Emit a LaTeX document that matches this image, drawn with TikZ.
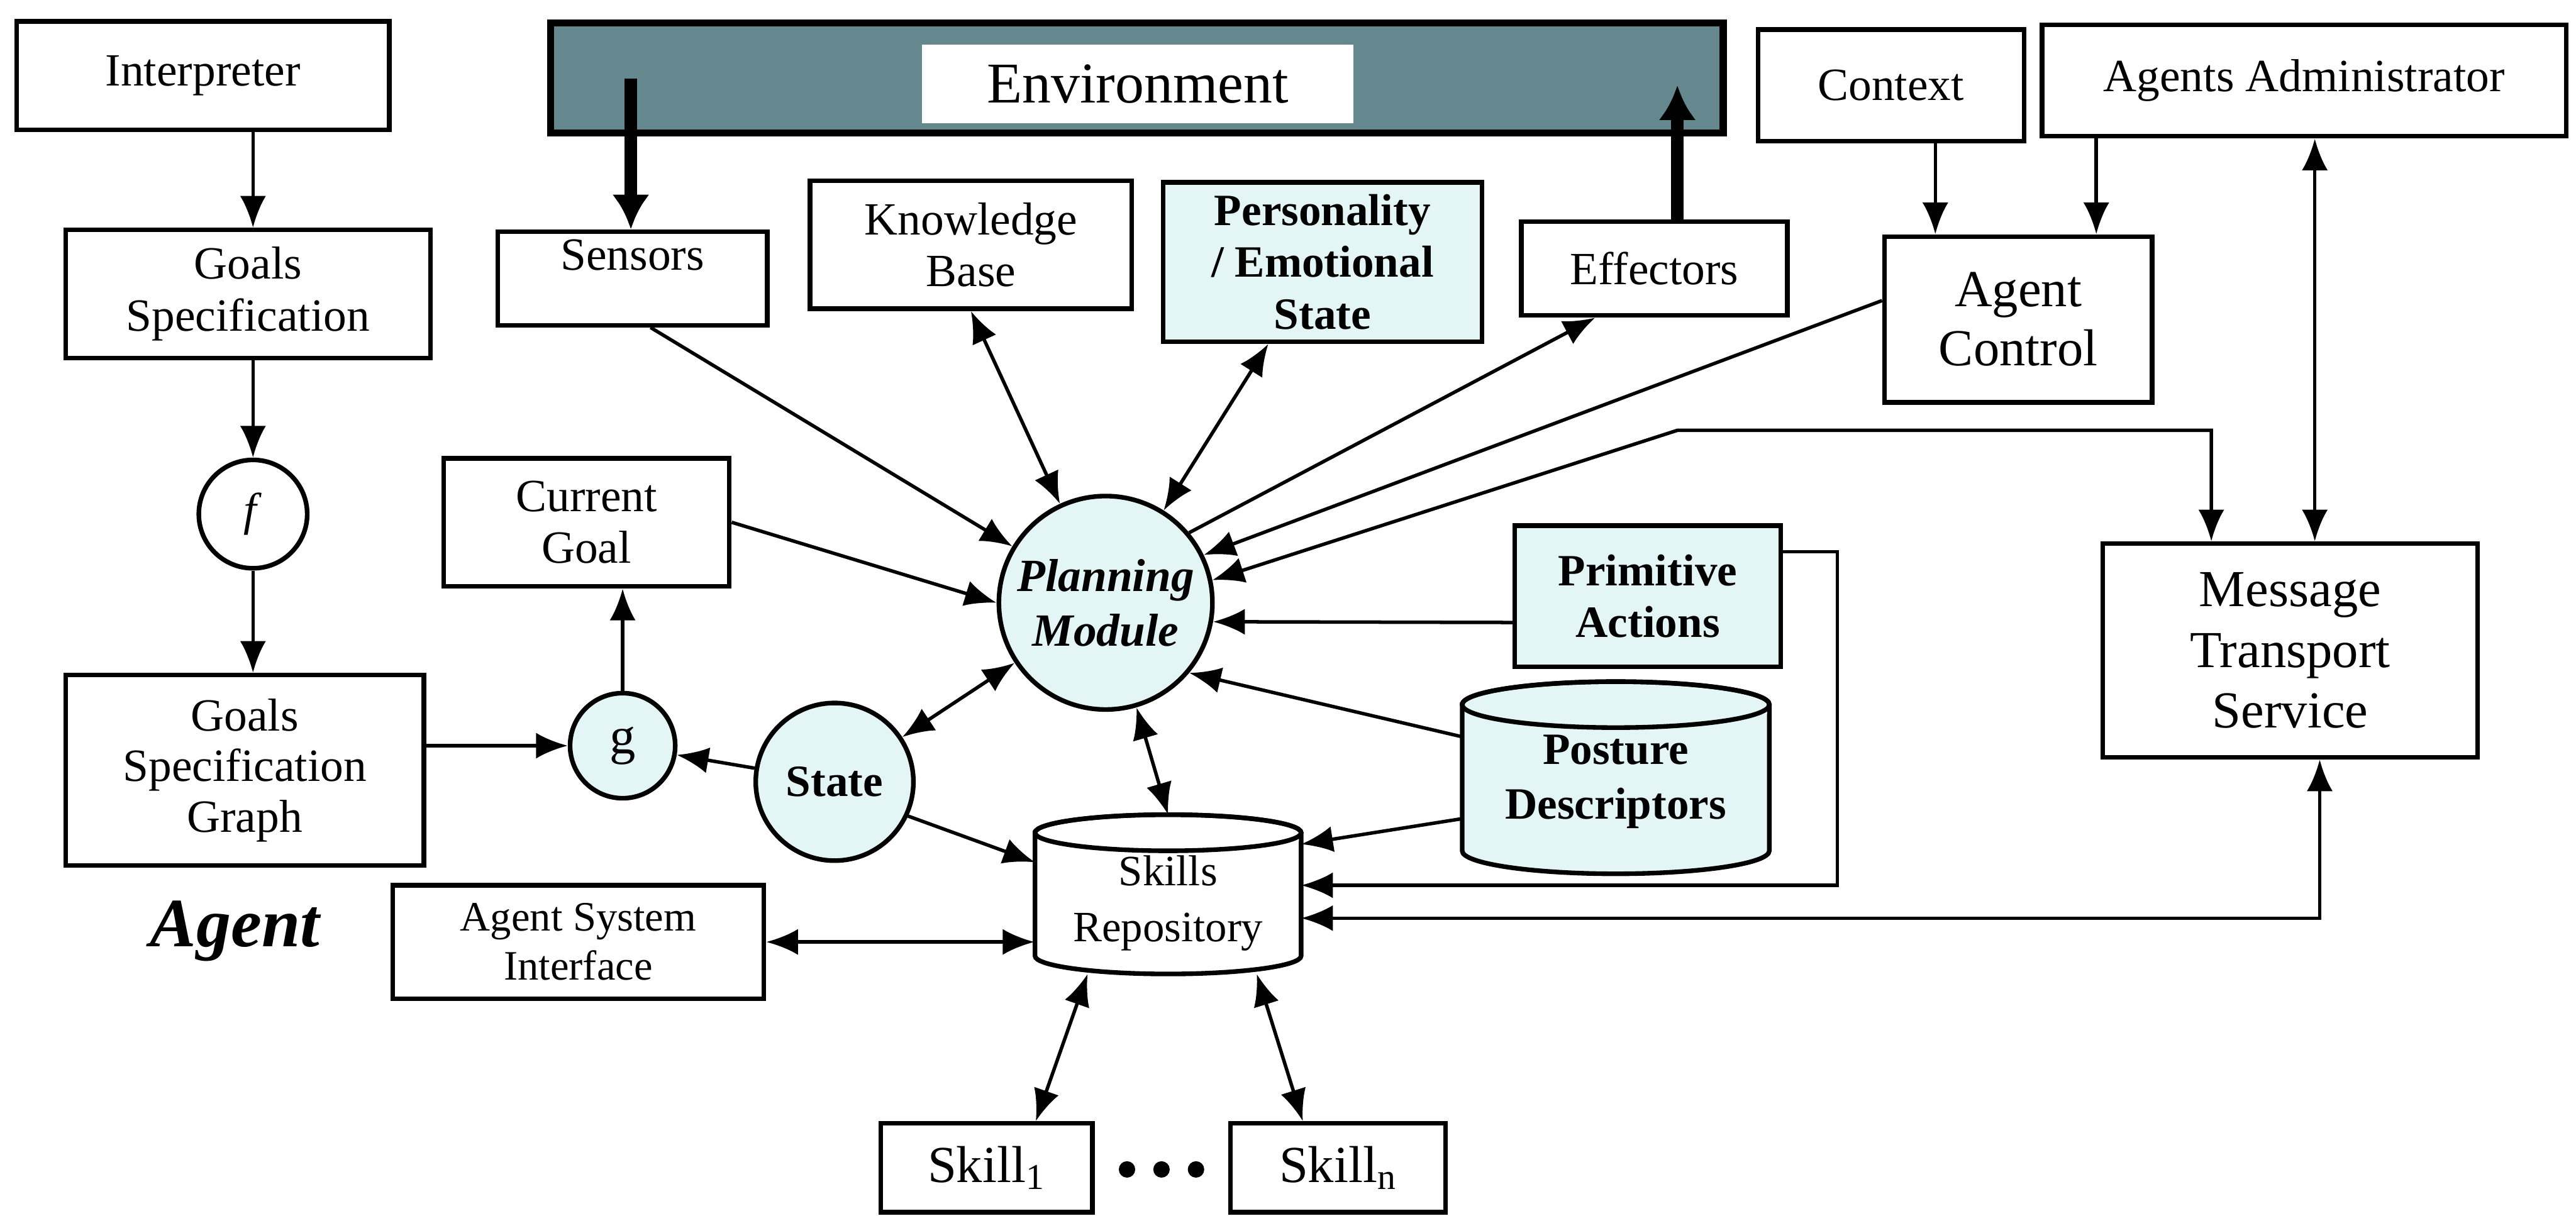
\documentclass[tikz,border=0pt]{standalone}
\usepackage{fontspec}
\setmainfont{Liberation Serif}
\usetikzlibrary{arrows.meta,calc}
\definecolor{envcol}{HTML}{64888E}
\definecolor{lightc}{HTML}{E3F5F4}
\tikzset{
  box/.style={draw, line width=1.6pt, rectangle, inner sep=2pt, align=center, fill=white,
    font=\fontsize{16}{18}\selectfont},
  circ/.style={draw, line width=1.6pt, circle, inner sep=0pt, align=center, fill=white,
    font=\fontsize{16}{18}\selectfont},
  bfont/.style={font=\bfseries\fontsize{15.5}{18}\selectfont},
  bigfont/.style={font=\fontsize{18}{20.5}\selectfont},
  cyl/.style={line width=1.6pt},
  arr/.style={line width=1.2pt, -{Latex[length=11pt,width=9pt]}},
  darr/.style={line width=1.2pt, {Latex[length=11pt,width=9pt]}-{Latex[length=11pt,width=9pt]}},
  thickarr/.style={line width=4.5pt, -{Latex[length=12pt,width=13pt]}},
}
\begin{document}
\begin{tikzpicture}[x=0.02cm,y=-0.02cm]
\useasboundingbox (0,0) rectangle (1568,740);

% environment
\node[draw, line width=2.5pt, fill=envcol, minimum width=14.28cm, minimum height=1.34cm] (env) at (692,47.5) {};
\node[fill=white, minimum width=5.26cm, minimum height=0.96cm, font=\fontsize{20}{24}\selectfont] (envlabel) at (692.5,51) {Environment};

% left column
\node[box, minimum width=4.54cm, minimum height=1.32cm] (interp) at (123.5,46) {Interpreter};
\node[box, minimum width=4.44cm, minimum height=1.56cm] (gspec) at (151,179) {Goals\\Specification};
\node[circ, minimum size=1.32cm] (f) at (154,313) {\textit{f}};
\node[box, minimum width=4.36cm, minimum height=2.32cm, font=\fontsize{16}{17.5}\selectfont] (gsg) at (149,469) {Goals\\Specification\\Graph};
\node[circ, fill=lightc, minimum size=1.28cm, font=\fontsize{18}{20}\selectfont] (g) at (379,454) {g};
\node[box, minimum width=3.48cm, minimum height=1.56cm] (curgoal) at (357,318) {Current\\Goal};
\node[circ, fill=lightc, minimum size=1.92cm, bfont] (state) at (508,476) {State};
\node[circ, fill=lightc, minimum size=2.6cm, font=\bfseries\itshape\fontsize{16}{19}\selectfont] (pm) at (673,367) {Planning\\Module};

% top row
\node[box, minimum width=3.28cm, minimum height=1.14cm, text height=11pt, text depth=17pt] (sensors) at (385,169.5) {Sensors};
\node[box, minimum width=3.92cm, minimum height=1.56cm] (kb) at (591,149) {Knowledge\\Base};
\node[box, fill=lightc, bfont, minimum width=3.88cm, minimum height=1.94cm] (pers) at (805,159.5) {Personality\\/ Emotional\\State};
\node[box, minimum width=3.24cm, minimum height=1.14cm] (eff) at (1007,163.5) {Effectors};
\node[box, minimum width=3.24cm, minimum height=1.36cm] (context) at (1151,52) {Context};
\node[box, minimum width=6.38cm, minimum height=1.36cm] (admin) at (1402.5,49) {Agents Administrator};
\node[box, bigfont, minimum width=3.26cm, minimum height=2.02cm] (agentctl) at (1228.5,194.5) {Agent\\Control};
\node[box, font=\fontsize{18}{21}\selectfont, minimum width=4.56cm, minimum height=2.6cm] (mts) at (1394,396) {Message\\Transport\\Service};
\node[box, fill=lightc, bfont, minimum width=3.24cm, minimum height=1.72cm] (pa) at (1003,363) {Primitive\\Actions};

% cylinders
\filldraw[cyl, fill=lightc] (890,429) -- (890,518) arc[start angle=180,end angle=360,x radius=1.87cm,y radius=0.28cm] -- (1077,429) arc[start angle=0,end angle=180,x radius=1.87cm,y radius=0.28cm] -- cycle;
\draw[cyl] (983.5,429) ellipse[x radius=1.87cm,y radius=0.28cm];
\node[align=center, font=\bfseries\fontsize{15.5}{19}\selectfont, minimum width=3.74cm, minimum height=2.34cm, inner sep=0pt] (posture) at (983.5,476) {Posture\\Descriptors};

\filldraw[cyl, fill=white] (630,507) -- (630,582) arc[start angle=180,end angle=360,x radius=1.62cm,y radius=0.22cm] -- (792,507) arc[start angle=0,end angle=180,x radius=1.62cm,y radius=0.22cm] -- cycle;
\draw[cyl] (711,507) ellipse[x radius=1.62cm,y radius=0.22cm];
\node[align=center, font=\fontsize{15}{19.5}\selectfont, minimum width=3.24cm, minimum height=1.94cm, inner sep=0pt] (skills) at (711,550) {Skills\\Repository};

% bottom
\node[box, font=\fontsize{14.5}{17}\selectfont, minimum width=4.52cm, minimum height=1.38cm] (asi) at (352,573.5) {Agent System\\Interface};
\node[font=\bfseries\itshape\fontsize{24}{28}\selectfont] (agentlbl) at (143,567) {Agent};
\node[box, bigfont, minimum width=2.58cm, minimum height=1.08cm] (skill1) at (600.5,711) {Skill\textsubscript{1}};
\node[box, bigfont, minimum width=2.62cm, minimum height=1.08cm] (skilln) at (814.5,711) {Skill\textsubscript{n}};
\fill (686,712) circle[radius=0.1cm];
\fill (707,712) circle[radius=0.1cm];
\fill (728,712) circle[radius=0.1cm];

% connectors: left
\draw[arr] (interp.south -| f) -- (gspec.north -| f);
\draw[arr] (gspec.south -| f) -- (f.north);
\draw[arr] (f.south) -- (gsg.north -| f);
\draw[arr] (gsg.east |- g.west) -- (g.west);
\draw[arr] (state) -- (g);
\draw[arr] (g.north) -- (curgoal.south -| g);
\draw[arr] (curgoal.east) -- (pm.180);
\draw[darr] (state) -- (pm);
\coordinate (skW) at (630,525);
\draw[arr] (state.-25) -- (skW);
\coordinate (skN) at (711,496);
\draw[darr] (pm) -- (skN);
\draw[darr] (asi.east) -- (skills.west |- asi.east);
\coordinate (skS) at (711,593);
\draw[darr] ([xshift=-0.98cm]skS) -- ([xshift=0.6cm]skill1.north);
\draw[darr] ([xshift=1.08cm]skS) -- ([xshift=-0.43cm]skilln.north);

% connectors: top
\draw[arr] ([xshift=0.22cm]sensors.south) -- (pm);
\draw[darr] (kb.south) -- (pm);
\draw[darr] ([xshift=-0.66cm]pers.south) -- (pm);
\draw[arr] (pm.40) -- ([xshift=-0.72cm]eff.south);
\draw[arr] ([yshift=0.23cm]agentctl.west) -- (pm.26);
\coordinate (c1) at (1021,262);
\coordinate (mtsL) at ([xshift=-0.96cm]mts.north);
\draw[darr] (pm.12) -- (c1) -| (mtsL);
\coordinate (mtsA) at ([xshift=0.3cm]mts.north);
\draw[darr] (mtsA |- admin.south) -- (mtsA);
\coordinate (acL) at ([xshift=-1.01cm]agentctl.north);
\draw[arr] (acL |- context.south) -- (acL);
\coordinate (acR) at ([xshift=0.95cm]agentctl.north);
\draw[arr] (acR |- admin.south) -- (acR);

% connectors: right
\draw[arr] ([yshift=-0.32cm]pa.west) -- (pm.-10.6);
\draw[arr] ([yshift=0.55cm]posture.west) -- (pm.-40);
\coordinate (skE1) at (792,514);
\draw[arr] ([yshift=-0.45cm]posture.west) -- (skE1);
\coordinate (paR) at ([yshift=0.54cm]pa.east);
\coordinate (skE2) at (792,539);
\draw[arr] (paR) -- ++(0.66cm,0) |- (skE2);
\coordinate (skR) at (792,559);
\coordinate (mtsB) at ([xshift=0.36cm]mts.south);
\draw[darr] (skR) -| (mtsB);

% environment arrows
\coordinate (s0) at (384,48);
\draw[thickarr] (s0) -- (sensors.north -| s0);
\coordinate (e0) at (1021,52);
\draw[thickarr] (eff.north -| e0) -- (e0);
\end{tikzpicture}
\end{document}
